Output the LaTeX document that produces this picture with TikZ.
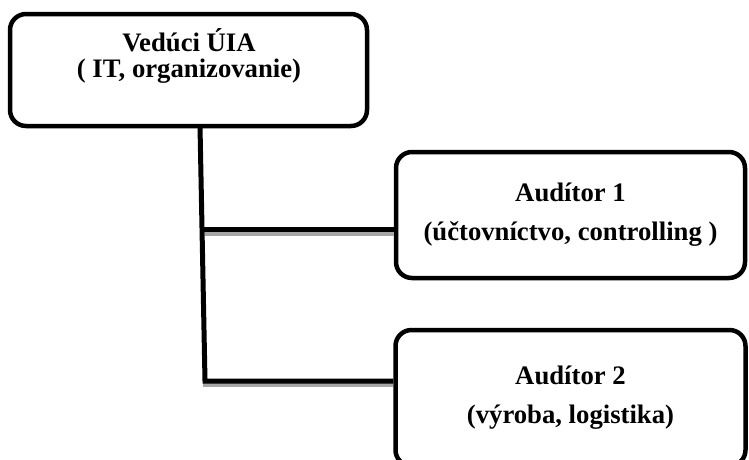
\documentclass[tikz,border=0pt]{standalone}
\usepackage{fontspec}
\setmainfont{Liberation Serif}
\usepackage{tikz}
\usetikzlibrary{positioning}
\usetikzlibrary{calc}

\begin{document}
\begin{tikzpicture}[x=1pt,y=-1pt,
  box/.style={draw,line width=4.5pt,rounded corners=16pt,align=center,font=\fontsize{26.7}{26}\selectfont\bfseries},
  link/.style={line width=5pt},
  shade/.style={line width=4pt,black!35}]
\useasboundingbox (0,0) rectangle (749,459);
\node (lead) at (188.5,70) [box,minimum width=357pt,minimum height=112pt] {};
\node (leadtxt) at (189,55.5) [align=center,font=\fontsize{26.7}{26}\selectfont\bfseries] {Vedúci ÚIA\\( IT, organizovanie)};
\node (aud1) at (570.5,215) [box,minimum width=349pt,minimum height=126pt] {Audítor 1\\[13pt](účtovníctvo, controlling )};
\node (aud2) [below=47.5pt of aud1, box,minimum width=350pt,minimum height=136pt] {Audítor 2\\[13pt](výroba, logistika)};
\coordinate (top) at (200,126);
\coordinate (j1) at (202,229.5);
\coordinate (foot) at (205,381);
% shadows of the branches
\draw[shade] ($(j1)+(3,4)$) -- ($(j1 -| aud1.west)+(0,4)$);
\draw[shade] ($(foot)+(-2,4)$) -- ($(foot -| aud2.west)+(0,4)$);
\draw[link] (top) -- (foot) -- (foot -| aud2.west);
\draw[link] (j1) -- (j1 -| aud1.west);
\end{tikzpicture}
\end{document}
